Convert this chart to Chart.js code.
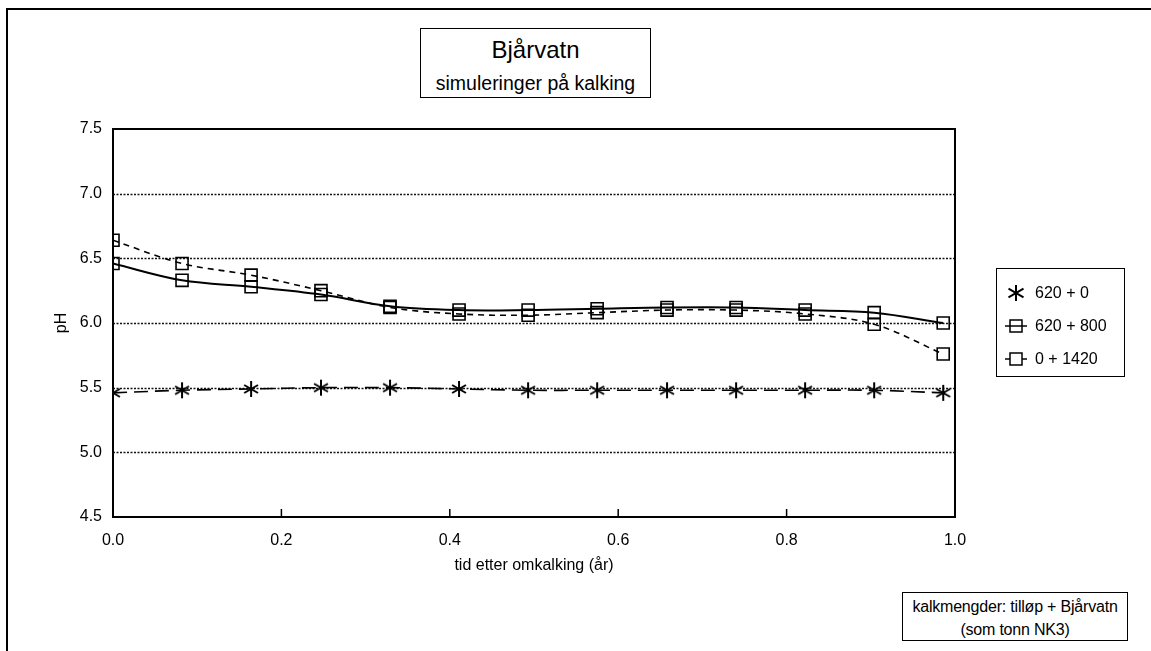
<!DOCTYPE html>
<html>
<head>
<meta charset="utf-8">
<script src="https://cdn.jsdelivr.net/npm/chart.js@4.4.1/dist/chart.umd.min.js"></script>
<style>
  html, body { margin: 0; padding: 0; background: #fff; }
  body { width: 1151px; height: 651px; position: relative; overflow: hidden;
         font-family: "Liberation Sans", Arial, sans-serif; color: #000; }
  #wrap { position: absolute; left: 0; top: 0; width: 1151px; height: 651px; }
  .frame { position: absolute; left: 6px; top: 8px; width: 1145px; height: 643px;
           border-top: 2px solid #000; border-left: 2px solid #000; box-sizing: border-box; }
  .box { position: absolute; border: 1.5px solid #000; box-sizing: border-box; background: #fff; text-align: center; }
  #titleBox { left: 420px; top: 28px; width: 231px; height: 70px; }
  #titleBox .t1 { position: absolute; left: 0; right: 0; top: 8px; font-size: 24px; line-height: 26px; }
  #titleBox .t2 { position: absolute; left: 0; right: 0; top: 43px; font-size: 19.5px; line-height: 22px; }
  #noteBox { left: 902px; top: 592px; width: 226px; height: 49px; font-size: 16px; line-height: 23px; padding-top: 2px; letter-spacing: -0.2px; }
  #legendBox { left: 996px; top: 268px; width: 129px; height: 109px; text-align: left; }
  .lrow { position: absolute; left: 8px; height: 24px; display: flex; align-items: center; font-size: 16px; }
  .lrow svg { margin-right: 8px; }
</style>
</head>
<body>
<div id="wrap"><canvas id="c" width="1151" height="651"></canvas></div>
<div class="frame"></div>
<div class="box" id="titleBox"><div class="t1" id="t1"></div><div class="t2" id="t2"></div></div>
<div class="box" id="legendBox"></div>
<div class="box" id="noteBox"></div>
<script>
// ---- data ----
const titleLine1 = "Bjårvatn";
const titleLine2 = "simuleringer på kalking";
const xTitle = "tid etter omkalking (år)";
const yTitle = "pH";
const noteLines = ["kalkmengder: tilløp + Bjårvatn", "(som tonn NK3)"];
const seriesNames = ["620 + 0", "620 + 800", "0 + 1420"];
const xValues = [0, 0.082, 0.164, 0.247, 0.329, 0.411, 0.493, 0.575, 0.658, 0.740, 0.822, 0.904, 0.986];
const s620_0    = [5.46, 5.48, 5.49, 5.50, 5.50, 5.49, 5.48, 5.48, 5.48, 5.48, 5.48, 5.48, 5.46];
const s620_800  = [6.46, 6.33, 6.28, 6.22, 6.13, 6.10, 6.10, 6.11, 6.12, 6.12, 6.10, 6.08, 6.00];
const s0_1420   = [6.64, 6.46, 6.37, 6.25, 6.12, 6.07, 6.06, 6.08, 6.10, 6.10, 6.07, 5.99, 5.76];
const xMin = 0, xMax = 1.0, xStep = 0.2;
const yMin = 4.5, yMax = 7.5, yStep = 0.5;

// ---- text boxes ----
document.getElementById('t1').textContent = titleLine1;
document.getElementById('t2').textContent = titleLine2;
const nb = document.getElementById('noteBox');
noteLines.forEach(s => { const d = document.createElement('div'); d.textContent = s; nb.appendChild(d); });

// asterisk marker
function makeStar(size) {
  const c = document.createElement('canvas');
  c.width = size; c.height = size;
  const g = c.getContext('2d');
  const r = size / 2 - 1, cx = size / 2, cy = size / 2;
  g.strokeStyle = '#000'; g.lineWidth = 2; g.lineCap = 'butt';
  [90, 30, 150].forEach(a => {
    const t = a * Math.PI / 180;
    g.beginPath();
    g.moveTo(cx - r * Math.cos(t), cy - r * Math.sin(t));
    g.lineTo(cx + r * Math.cos(t), cy + r * Math.sin(t));
    g.stroke();
  });
  return c;
}
const starImg = makeStar(18);

function pts(ys) { return xValues.map((x, i) => ({ x: x, y: ys[i] })); }

// legend (HTML)
const legendSpecs = [
  { name: seriesNames[0], svg: '<svg width="22" height="18"><g stroke="#000" stroke-width="2"><line x1="11" y1="1" x2="11" y2="17"/><line x1="3.5" y1="4.7" x2="18.5" y2="13.3"/><line x1="3.5" y1="13.3" x2="18.5" y2="4.7"/></g></svg>' },
  { name: seriesNames[1], svg: '<svg width="22" height="18"><g stroke="#000" stroke-width="1.5" fill="none"><line x1="0" y1="9" x2="22" y2="9"/><rect x="5" y="3" width="12" height="12"/></g></svg>' },
  { name: seriesNames[2], svg: '<svg width="22" height="18"><g stroke="#000" stroke-width="1.5" fill="none"><line x1="0" y1="9" x2="5" y2="9"/><line x1="17" y1="9" x2="22" y2="9"/><rect x="5" y="3" width="12" height="12"/></g></svg>' }
];
const lb = document.getElementById('legendBox');
legendSpecs.forEach((s, i) => {
  const d = document.createElement('div');
  d.className = 'lrow';
  d.style.top = (12 + i * 33) + 'px';
  d.innerHTML = s.svg + '<span></span>';
  d.querySelector('span').textContent = s.name;
  lb.appendChild(d);
});

Chart.defaults.color = '#000';
Chart.defaults.font.family = '"Liberation Sans", Arial, sans-serif';

const dottedGrid = {
  id: 'dottedGrid',
  beforeDatasetsDraw(chart) {
    const { ctx, chartArea: a, scales } = chart;
    ctx.save();
    ctx.strokeStyle = '#111';
    ctx.lineWidth = 1.3;
    ctx.setLineDash([2, 1.5]);
    scales.y.ticks.forEach(t => {
      if (t.value <= yMin || t.value >= yMax) return;
      const py = Math.round(scales.y.getPixelForValue(t.value)) + 0.5;
      ctx.beginPath(); ctx.moveTo(a.left, py); ctx.lineTo(a.right, py); ctx.stroke();
    });
    ctx.restore();
  }
};

const frameAndTicks = {
  id: 'frameAndTicks',
  afterDraw(chart) {
    const { ctx, chartArea: a, scales } = chart;
    ctx.save();
    ctx.strokeStyle = '#000';
    ctx.lineWidth = 2;
    ctx.beginPath();
    ctx.moveTo(a.left, a.top); ctx.lineTo(a.right, a.top); ctx.lineTo(a.right, a.bottom);
    ctx.stroke();
    ctx.lineWidth = 1.5;
    scales.x.ticks.forEach(t => {
      if (t.value <= xMin || t.value >= xMax) return;
      const px = scales.x.getPixelForValue(t.value);
      ctx.beginPath(); ctx.moveTo(px, a.bottom); ctx.lineTo(px, a.bottom - 8); ctx.stroke();
    });
    ctx.restore();
  }
};

new Chart(document.getElementById('c'), {
  type: 'line',
  data: {
    datasets: [
      { label: seriesNames[0], data: pts(s620_0), borderColor: '#000', borderWidth: 1.6, borderDash: [14, 7],
        pointStyle: starImg, pointRadius: 8, tension: 0.35 },
      { label: seriesNames[1], data: pts(s620_800), borderColor: '#000', borderWidth: 2,
        pointStyle: 'rect', pointRadius: 8.5, pointBorderWidth: 1.6, pointBackgroundColor: 'rgba(0,0,0,0)', tension: 0.35 },
      { label: seriesNames[2], data: pts(s0_1420), borderColor: '#000', borderWidth: 1.6, borderDash: [6, 5],
        pointStyle: 'rect', pointRadius: 8.5, pointBorderWidth: 1.6, pointBackgroundColor: 'rgba(0,0,0,0)', tension: 0.35 }
    ]
  },
  options: {
    responsive: false,
    animation: false,
    devicePixelRatio: 1,
    layout: { padding: { left: 0, top: 129, right: 196, bottom: 0 } },
    plugins: { legend: { display: false }, tooltip: { enabled: false } },
    scales: {
      x: {
        type: 'linear', min: xMin, max: xMax,
        ticks: { stepSize: xStep, autoSkip: false, maxRotation: 0, padding: 14, font: { size: 16 },
                 callback: v => Number(v).toFixed(1) },
        grid: { display: false, drawTicks: false },
        border: { display: true, color: '#000', width: 2 },
        title: { display: true, text: xTitle, font: { size: 16 }, padding: { top: 0, bottom: 76 } },
        afterFit(s) { s.height = 134; }
      },
      y: {
        type: 'linear', min: yMin, max: yMax,
        ticks: { stepSize: yStep, padding: 11, font: { size: 16 }, callback: v => Number(v).toFixed(1) },
        grid: { display: false, drawTicks: false },
        border: { display: true, color: '#000', width: 2 },
        title: { display: true, text: yTitle, font: { size: 16 }, padding: { top: 52, bottom: 0 } },
        afterFit(s) { s.width = 113; }
      }
    }
  },
  plugins: [dottedGrid, frameAndTicks]
});
</script>
</body>
</html>
